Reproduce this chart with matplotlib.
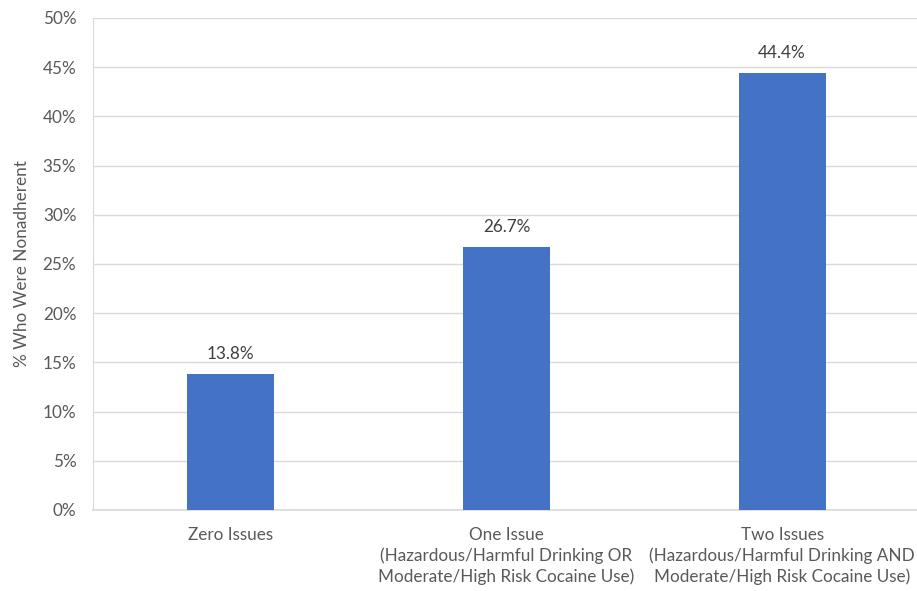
import matplotlib.pyplot as plt
from matplotlib.ticker import PercentFormatter

categories = ["Zero Issues",
              "One Issue\n(Hazardous/Harmful Drinking OR\nModerate/High Risk Cocaine Use)",
              "Two Issues\n(Hazardous/Harmful Drinking AND\nModerate/High Risk Cocaine Use)"]
values = [13.8, 26.7, 44.4]
y_ticks = [0, 5, 10, 15, 20, 25, 30, 35, 40, 45, 50]

plt.rcParams['font.family'] = ['Lato', 'DejaVu Sans']
text_col = "#595959"
fs = 12.3

fig = plt.figure(figsize=(9.17, 5.91), dpi=100)
ax = fig.add_axes([93 / 917, 81 / 591, 827 / 917, 492 / 591])

x = range(len(categories))
bars = ax.bar(x, values, width=0.315, color="#4472C4", zorder=3)
for b, v in zip(bars, values):
    ax.text(b.get_x() + b.get_width() / 2, v + 1.2, f"{v:.1f}%",
            ha="center", va="bottom", fontsize=fs, color="#404040")

ax.set_xlim(-0.5, 2.5)
ax.set_ylim(0, 50)
ax.set_yticks(y_ticks)
ax.yaxis.set_major_formatter(PercentFormatter(decimals=0))
ax.set_xticks(list(x))
ax.set_xticklabels(categories, fontsize=fs, color=text_col, linespacing=1.35)
ax.tick_params(axis="y", labelsize=fs, colors=text_col, length=0, pad=12)
ax.tick_params(axis="x", length=0, pad=12)
ax.set_ylabel("% Who Were Nonadherent", fontsize=fs, color=text_col, labelpad=9)

ax.grid(axis="y", color="#D9D9D9", linewidth=1, zorder=0)
for s in ["top", "right"]:
    ax.spines[s].set_visible(False)
ax.spines["left"].set_color("#D9D9D9")
ax.spines["bottom"].set_color("#D9D9D9")
ax.spines["bottom"].set_linewidth(1.2)

fig.savefig("out.png", dpi=100)
